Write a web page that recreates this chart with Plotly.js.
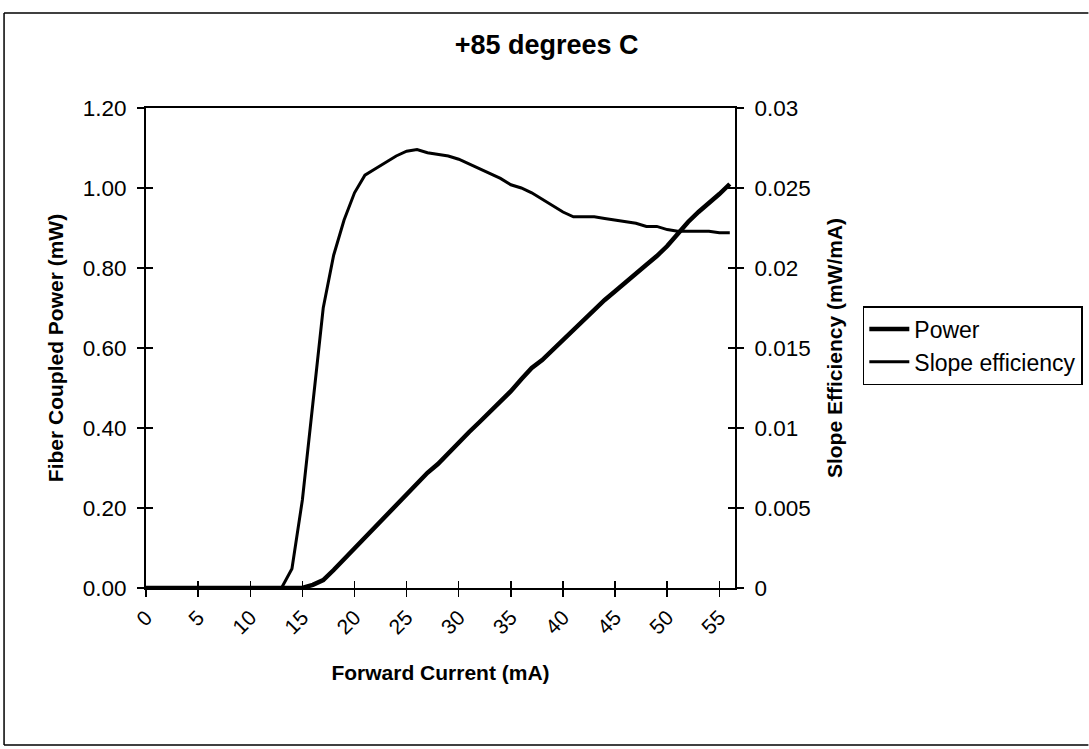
<!DOCTYPE html>
<html>
<head>
<meta charset="utf-8">
<script src="https://cdn.plot.ly/plotly-3.0.1.min.js"></script>
<style>html,body{margin:0;padding:0;background:#fff;}#chart{width:1089px;height:749px;}</style>
</head>
<body>
<div id="chart"></div>
<script>
// Forward current (mA)
const current = [0,1,2,3,4,5,6,7,8,9,10,11,12,13,14,15,16,17,18,19,20,21,22,23,24,25,26,27,28,29,30,31,32,33,34,35,36,37,38,39,40,41,42,43,44,45,46,47,48,49,50,51,52,53,54,55,56];
// Fiber coupled power (mW)
const power = [0,0,0,0,0,0,0,0,0,0,0,0,0,0,0,0,0.008,0.02,0.045,0.072,0.098,0.125,0.155,0.183,0.21,0.237,0.263,0.288,0.31,0.338,0.365,0.39,0.415,0.44,0.465,0.492,0.522,0.55,0.57,0.595,0.62,0.648,0.672,0.697,0.72,0.742,0.765,0.787,0.808,0.83,0.855,0.885,0.915,0.94,0.962,0.985,1.01];
// Slope efficiency (mW/mA)
const slope = [0,0,0,0,0,0,0,0,0,0,0,0,0,0,0.0012,0.0055,0.0115,0.0175,0.0208,0.0230,0.0247,0.0258,0.0262,0.0266,0.0270,0.0273,0.0274,0.0272,0.0271,0.0270,0.0268,0.0265,0.0262,0.0259,0.0256,0.0252,0.0250,0.0247,0.0243,0.0239,0.0235,0.0232,0.0232,0.0232,0.0231,0.0230,0.0229,0.0228,0.0226,0.0226,0.0224,0.0223,0.0223,0.0223,0.0223,0.0222,0.0222];

const xTicks = [0,5,10,15,20,25,30,35,40,45,50,55];
const yLeftTicks = [0,0.2,0.4,0.6,0.8,1.0,1.2];
const yLeftLabels = ['0.00','0.20','0.40','0.60','0.80','1.00','1.20'];
const yRightTicks = [0,0.005,0.01,0.015,0.02,0.025,0.03];
const yRightLabels = ['0','0.005','0.01','0.015','0.02','0.025','0.03'];

const FONT = 'Liberation Sans, Arial, sans-serif';
const xRange = [0,56.5];
const yRange = [0,1.2];
const y2Range = [0,0.03];

const traces = [
  {x: current, y: power, name: 'Power', type: 'scatter', mode: 'lines',
   line: {color: '#000', width: 4.5}, xaxis: 'x', yaxis: 'y'},
  {x: current, y: slope, name: 'Slope efficiency', type: 'scatter', mode: 'lines',
   line: {color: '#000', width: 3}, xaxis: 'x', yaxis: 'y2'},
  {x: [], y: [], showlegend: false, hoverinfo: 'skip', xaxis: 'x2', yaxis: 'y'},
  {x: [], y: [], showlegend: false, hoverinfo: 'skip', xaxis: 'x', yaxis: 'y3'},
  {x: [], y: [], showlegend: false, hoverinfo: 'skip', xaxis: 'x', yaxis: 'y4'}
];

const common = {showgrid: false, zeroline: false, fixedrange: true};

const layout = {
  width: 1089, height: 749,
  paper_bgcolor: '#fff', plot_bgcolor: '#fff',
  margin: {l: 146, r: 354, t: 108, b: 161, autoexpand: false},
  font: {family: FONT, color: '#000', size: 22},
  title: {text: '+85 degrees C', font: {family: FONT, size: 27, weight: 'bold', color: '#000'},
          xref: 'container', yref: 'container', x: 0.502, y: 0.94, xanchor: 'center', yanchor: 'middle'},
  showlegend: true,
  legend: {x: 1.217, y: 0.5875, xanchor: 'left', yanchor: 'top',
           bordercolor: '#000', borderwidth: 1.5, bgcolor: '#fff',
           font: {family: FONT, size: 23, color: '#000'}, itemwidth: 40,
           tracegroupgap: 0},
  xaxis: Object.assign({}, common, {
    range: xRange, tickvals: xTicks, ticktext: xTicks.map(String), tickangle: -45,
    ticks: 'outside', ticklen: 7, tickwidth: 1.5, tickcolor: '#000',
    showline: true, linecolor: '#000', linewidth: 2, mirror: true,
    tickfont: {family: FONT, size: 21, color: '#000'},
    title: {text: 'Forward Current (mA)', font: {family: FONT, size: 21, weight: 'bold', color: '#000'}, standoff: 28}
  }),
  xaxis2: Object.assign({}, common, {
    overlaying: 'x', anchor: 'y', side: 'bottom', range: xRange, tickvals: xTicks,
    ticks: 'inside', ticklen: 7, tickwidth: 1.5, tickcolor: '#000', showticklabels: false, showline: false
  }),
  yaxis: Object.assign({}, common, {
    range: yRange, tickvals: yLeftTicks, ticktext: yLeftLabels,
    ticks: 'outside', ticklen: 7, tickwidth: 1.5, tickcolor: '#000',
    showline: true, linecolor: '#000', linewidth: 2,
    tickfont: {family: FONT, size: 22.5, color: '#000'}, ticklabelstandoff: 6,
    title: {text: 'Fiber Coupled Power (mW)', font: {family: FONT, size: 21, weight: 'bold', color: '#000'}, standoff: 13}
  }),
  yaxis2: Object.assign({}, common, {
    overlaying: 'y', side: 'right', anchor: 'x',
    range: y2Range, tickvals: yRightTicks, ticktext: yRightLabels,
    ticks: 'outside', ticklen: 7, tickwidth: 1.5, tickcolor: '#000',
    showline: true, linecolor: '#000', linewidth: 2,
    tickfont: {family: FONT, size: 22.5, color: '#000'}, ticklabelstandoff: 6,
    title: {text: 'Slope Efficiency (mW/mA)', font: {family: FONT, size: 21, weight: 'bold', color: '#000'}, standoff: 17}
  }),
  yaxis3: Object.assign({}, common, {
    overlaying: 'y', side: 'left', anchor: 'x', range: yRange, tickvals: yLeftTicks,
    ticks: 'inside', ticklen: 7, tickwidth: 1.5, tickcolor: '#000', showticklabels: false, showline: false
  }),
  yaxis4: Object.assign({}, common, {
    overlaying: 'y', side: 'right', anchor: 'x', range: y2Range, tickvals: yRightTicks,
    ticks: 'inside', ticklen: 7, tickwidth: 1.5, tickcolor: '#000', showticklabels: false, showline: false
  }),
  shapes: [
    {type: 'line', xref: 'paper', yref: 'paper', x0: -0.241, x1: -0.241, y0: -0.327, y1: 1.198,
     line: {color: '#000', width: 1.5}},
    {type: 'line', xref: 'paper', yref: 'paper', x0: -0.241, x1: 1.60, y0: 1.198, y1: 1.198,
     line: {color: '#000', width: 1.5}},
    {type: 'line', xref: 'paper', yref: 'paper', x0: -0.241, x1: 1.60, y0: -0.327, y1: -0.327,
     line: {color: '#000', width: 1.5}}
  ]
};

Plotly.newPlot('chart', traces, layout, {staticPlot: true, displayModeBar: false});
</script>
</body>
</html>
